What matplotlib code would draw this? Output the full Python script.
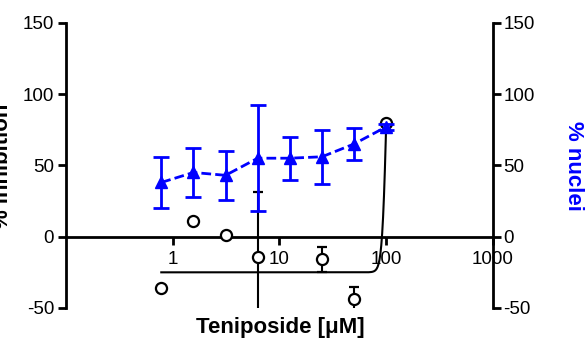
import numpy as np
import matplotlib
matplotlib.use("Agg")
import matplotlib.pyplot as plt

plt.rcParams['font.family'] = ['Liberation Sans', 'DejaVu Sans']
plt.rcParams['axes.unicode_minus'] = False

# concentrations (two-fold dilution)
conc = [0.78125, 1.5625, 3.125, 6.25, 12.5, 25, 50, 100]

# % inhibition (left axis), NaN = no point / no error bar shown
inhib = [-36, 11, 1, -14, np.nan, -16, -44, 80]
inhib_err = [np.nan, np.nan, np.nan, 45, np.nan, 9, 9, np.nan]

# % nuclei (right axis)
nuclei = [38, 45, 43, 55, 55, 56, 65, 77]
nuclei_err = [18, 17, 17, 37, 15, 19, 11, 2]

# sigmoid fit parameters for % inhibition
fit_bottom = -25
fit_top = 200
fit_logec50 = 2.003
fit_hill = 21

yticks = [-50, 0, 50, 100, 150]
xticks = [1, 10, 100, 1000]

fig = plt.figure(figsize=(5.88, 3.49), dpi=100)
ax = fig.add_axes([0.1122, 0.1175, 0.7262, 0.8175])
ax2 = ax.twinx()

lw = 2.0

# fitted curve
xfit = np.logspace(np.log10(conc[0]), np.log10(conc[-1]), 500)
yfit = fit_bottom + (fit_top - fit_bottom) / (1 + 10 ** ((fit_logec50 - np.log10(xfit)) * fit_hill))
ax.plot(xfit, yfit, color='black', lw=1.5, zorder=2)

ax.errorbar(conc, inhib, yerr=inhib_err, fmt='o', color='black', mfc='white',
            mec='black', mew=1.6, ms=8, ecolor='black', elinewidth=1.5,
            capsize=3.8, capthick=1.5, zorder=3)

ax2.errorbar(conc, nuclei, yerr=nuclei_err, fmt='^', color='blue', mfc='blue',
             mec='blue', ms=9, ecolor='blue', elinewidth=2.0, capsize=5.5,
             capthick=2.0, ls='--', lw=2.0, dashes=(3.5, 1.5))

for a in (ax, ax2):
    a.set_xscale('log')
    a.set_xlim(0.1, 1000)
    a.set_ylim(-50, 150)
    a.set_yticks(yticks)
    a.tick_params(axis='y', labelsize=13.5, width=lw, length=6, direction='out')
    a.spines['top'].set_visible(False)

ax.spines['right'].set_visible(False)
ax.spines['bottom'].set_position(('data', 0))
ax.spines['left'].set_linewidth(lw)
ax.spines['bottom'].set_linewidth(lw)
ax.tick_params(axis='y', pad=2.5)
ax.set_xticks(xticks)
ax.set_xticklabels([str(t) for t in xticks])
ax.xaxis.set_minor_locator(matplotlib.ticker.NullLocator())
ax.tick_params(axis='x', labelsize=13.5, width=lw, length=6, direction='out', pad=4)

ax2.spines['left'].set_visible(False)
ax2.spines['bottom'].set_visible(False)
ax2.spines['right'].set_linewidth(lw)
ax2.tick_params(axis='y', pad=1.5)

fig.text(0.476, 0.0458, 'Teniposide [\u03bcM]', fontsize=16, fontweight='bold',
         ha='center', va='baseline')
fig.text(0.004, 0.524, '% inhibition', fontsize=16, fontweight='bold',
         rotation=90, ha='center', va='center')
fig.text(0.9745, 0.524, '% nuclei', fontsize=16, fontweight='bold', color='blue',
         rotation=270, ha='center', va='center')

fig.savefig('out.png', dpi=100)
